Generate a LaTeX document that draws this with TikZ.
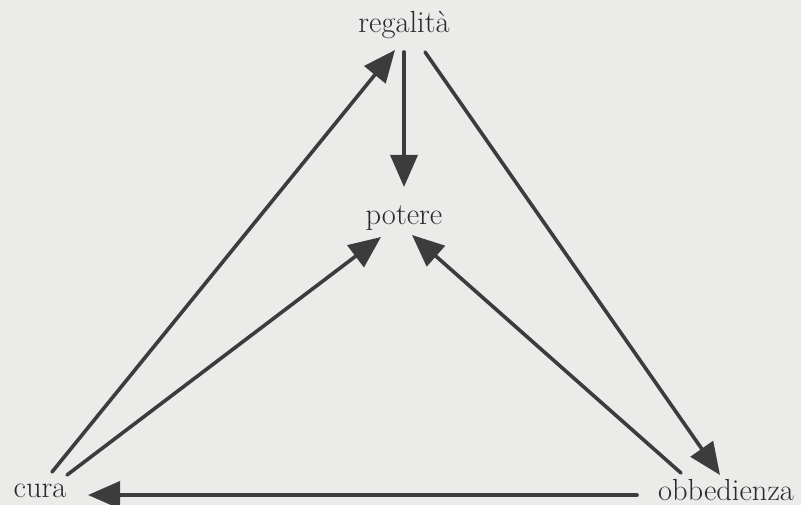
\documentclass[tikz,border=0pt]{standalone}
\usetikzlibrary{arrows.meta,calc}
\definecolor{paper}{HTML}{EBEBEA}
\definecolor{ink}{HTML}{3C3C3C}
\definecolor{txt}{HTML}{2A2A2A}
\tikzset{
  lbl/.style={anchor=base, inner sep=0pt, text=txt, font=\fontsize{30.5}{34}\selectfont},
  arr/.style={draw=ink, line width=3.6pt, line cap=round,
    -{Triangle[length=32pt,width=27pt,fill=ink]}}
}
\begin{document}
\begin{tikzpicture}[x=1pt,y=-1pt]
\fill[paper] (0,0) rectangle (801,505);
\useasboundingbox (0,0) rectangle (801,505);
\node[lbl] (reg) at (404,33) {regalità};
\node[lbl] (pot) at (404,225) {potere};
\node[lbl] (cura) at (40,497) {cura};
\node[lbl] (obb) at (726,500) {obbedienza};
\draw[arr] ($(cura.base)+(12,-25)$) -- ($(reg.base)+(-9,17)$);
\draw[arr] ($(cura.base)+(27,-22)$) -- ($(pot.base)+(-23,12)$);
\draw[arr] ($(reg.base)+(0,19)$) -- ($(pot.base)+(0,-38)$);
\draw[arr] ($(reg.base)+(21,19)$) -- ($(obb.base)+(-6,-25)$);
\draw[arr] ($(obb.base)+(-45,-27)$) -- ($(pot.base)+(8,10)$);
\draw[arr] ($(obb.base)+(-89,-5)$) -- ($(cura.base)+(48,-2)$);
\end{tikzpicture}
\end{document}
